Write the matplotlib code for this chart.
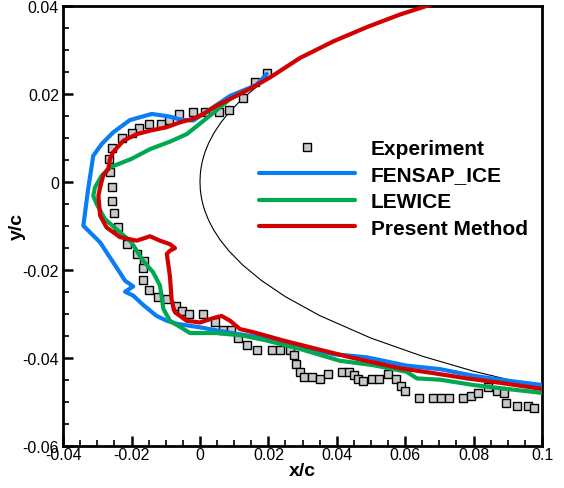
import matplotlib
matplotlib.use("Agg")
import matplotlib.pyplot as plt
from matplotlib.ticker import MultipleLocator

plt.rcParams["font.family"] = ["Liberation Sans", "DejaVu Sans"]

# NACA 0012 leading-edge region (x/c, half thickness)
airfoil_x = [0.0, 0.0001, 0.0003, 0.0006, 0.001, 0.0015, 0.0025, 0.004, 0.006,
             0.0085, 0.0125, 0.018, 0.025, 0.035, 0.05, 0.065, 0.08, 0.1, 0.12]
airfoil_t = [0.0, 0.001774, 0.003063, 0.004318, 0.005557, 0.006785, 0.008717,
             0.010961, 0.013338, 0.015766, 0.018939, 0.022472, 0.02615, 0.03043,
             0.03555, 0.039658, 0.043073, 0.04683, 0.049882]

# measured ice shape
exp_x = [0.0195, 0.0161, 0.0125, 0.0086, 0.0057, 0.0015, -0.0021, -0.0061, -0.0090,
         -0.0113, -0.0148, -0.0177, -0.0200, -0.0229, -0.0258, -0.0267, -0.0262,
         -0.0258, -0.0258, -0.0252, -0.0240, -0.0212, -0.0183, -0.0165, -0.0166,
         -0.0166, -0.0148, -0.0122, -0.0096, -0.0070, -0.0053, -0.0032, 0.0008,
         0.0043, 0.0066, 0.0090, 0.0112, 0.0137, 0.0166, 0.0212, 0.0234, 0.0263,
         0.0276, 0.0281, 0.0292, 0.0305, 0.0328, 0.0351, 0.0374, 0.0414, 0.0437,
         0.0450, 0.0463, 0.0478, 0.0502, 0.0524, 0.0549, 0.0572, 0.0589, 0.0600,
         0.0640, 0.0682, 0.0706, 0.0729, 0.0770, 0.0791, 0.0814, 0.0843, 0.0867,
         0.0890, 0.0896, 0.0926, 0.0959, 0.0977]
exp_y = [0.0246, 0.0227, 0.0190, 0.0163, 0.0159, 0.0159, 0.0159, 0.0153, 0.0141,
         0.0131, 0.0131, 0.0121, 0.0110, 0.0099, 0.0077, 0.0051, 0.0021,
         -0.0011, -0.0043, -0.0071, -0.0103, -0.0142, -0.0164, -0.0180, -0.0197,
         -0.0224, -0.0245, -0.0263, -0.0266, -0.0283, -0.0294, -0.0301, -0.0301,
         -0.0318, -0.0337, -0.0337, -0.0356, -0.0371, -0.0383, -0.0383, -0.0383,
         -0.0383, -0.0394, -0.0415, -0.0432, -0.0443, -0.0443, -0.0449, -0.0437,
         -0.0432, -0.0432, -0.0439, -0.0449, -0.0454, -0.0448, -0.0448, -0.0437,
         -0.0448, -0.0464, -0.0475, -0.0492, -0.0492, -0.0492, -0.0492, -0.0492,
         -0.0486, -0.0480, -0.0466, -0.0475, -0.0481, -0.0503, -0.0509, -0.0509,
         -0.0514]

fensap_x = [0.0195, 0.0166, 0.0088, 0.0010, -0.0020, -0.0058, -0.0088, -0.0141,
            -0.0205, -0.0254, -0.0287, -0.0312, -0.0327, -0.0341, -0.0292, -0.0254,
            -0.0219, -0.0195, -0.0219, -0.0195, -0.0166, -0.0127, -0.0097, -0.0068,
            0.0, 0.0078, 0.0175, 0.0292, 0.0390, 0.0487, 0.0604, 0.0702, 0.0799,
            0.0897, 0.1000]
fensap_y = [0.0245, 0.0220, 0.0195, 0.0154, 0.0139, 0.0141, 0.0148, 0.0154,
            0.0140, 0.0112, 0.0086, 0.0059, -0.0017, -0.0100, -0.0138, -0.0183,
            -0.0225, -0.0238, -0.0250, -0.0259, -0.0280, -0.0305, -0.0316, -0.0323,
            -0.0331, -0.0342, -0.0354, -0.0376, -0.0392, -0.0399, -0.0418, -0.0426,
            -0.0441, -0.0452, -0.0462]

lewice_x = [0.0132, 0.0088, 0.0029, -0.0039, -0.0088, -0.0146, -0.0200, -0.0239,
            -0.0263, -0.0287, -0.0307, -0.0312, -0.0302, -0.0278, -0.0234, -0.0200,
            -0.0170, -0.0137, -0.0117, -0.0107, -0.0088, -0.0029, 0.0049, 0.0127,
            0.0195, 0.0292, 0.0409, 0.0507, 0.0604, 0.0634, 0.0702, 0.0799, 0.0897,
            0.1000]
lewice_y = [0.0207, 0.0188, 0.0150, 0.0108, 0.0091, 0.0074, 0.0052, 0.0040,
            0.0033, 0.0014, -0.0013, -0.0032, -0.0051, -0.0085, -0.0115, -0.0138,
            -0.0176, -0.0206, -0.0236, -0.0289, -0.0316, -0.0344, -0.0344, -0.0350,
            -0.0361, -0.0380, -0.0407, -0.0417, -0.0432, -0.0447, -0.0450, -0.0462,
            -0.0471, -0.0480]

present_x = [0.075, 0.0673, 0.0585, 0.049, 0.039, 0.0292, 0.0205, 0.0146, 0.0088,
             0.0049, 0.0010, -0.0020, -0.0058, -0.0097, -0.0146, -0.0185, -0.0224,
             -0.0254, -0.0263, -0.0268, -0.0283, -0.0292, -0.0297, -0.0292, -0.0273,
             -0.0234, -0.0185, -0.0146, -0.0117, -0.0088, -0.0073, -0.0088, -0.0097,
             -0.0088, -0.0083, -0.0078, -0.0073, -0.0039, 0.0, 0.0039, 0.0063,
             0.0088, 0.0117, 0.0156, 0.0244, 0.0341, 0.0439, 0.0585, 0.0682, 0.0780,
             0.0877, 0.1000]
present_y = [0.0420, 0.0402, 0.0380, 0.0352, 0.0319, 0.0281, 0.0237, 0.0211, 0.0188,
             0.0173, 0.0154, 0.0143, 0.0135, 0.0124, 0.0116, 0.0108, 0.0093,
             0.0067, 0.0052, 0.0029, 0.0014, -0.0013, -0.0032, -0.0077, -0.0104,
             -0.0126, -0.0134, -0.0124, -0.0134, -0.0142, -0.0151, -0.0157, -0.0164,
             -0.0214, -0.0267, -0.0285, -0.0297, -0.0316, -0.0320, -0.0310, -0.0305,
             -0.0316, -0.0335, -0.0342, -0.0361, -0.0380, -0.0399, -0.0424, -0.0435,
             -0.0447, -0.0457, -0.0471]

fig = plt.figure(figsize=(5.64, 4.89), dpi=100)
ax = fig.add_axes([0.112, 0.0865, 0.849, 0.8998])

# airfoil contour: lower surface back to the nose, then upper surface
contour_x = airfoil_x[::-1] + airfoil_x[1:]
contour_y = [-t for t in airfoil_t[::-1]] + airfoil_t[1:]
ax.plot(contour_x, contour_y, color="black", lw=0.8, zorder=1)

ax.plot(exp_x, exp_y, ls="none", marker="s", ms=6.2, mfc="#c8c8c8", mec="black",
        mew=1.0, label="Experiment", zorder=2)
ax.plot(fensap_x, fensap_y, color="#0a7df5", lw=3.0, label="FENSAP_ICE",
        solid_capstyle="round", zorder=3)
ax.plot(lewice_x, lewice_y, color="#00a84f", lw=3.0, label="LEWICE",
        solid_capstyle="round", zorder=4)
ax.plot(present_x, present_y, color="#d20000", lw=3.0, label="Present Method",
        solid_capstyle="round", zorder=5)

ax.set_xlim(-0.04, 0.1)
ax.set_ylim(-0.06, 0.04)
ax.xaxis.set_major_locator(MultipleLocator(0.02))
ax.xaxis.set_minor_locator(MultipleLocator(0.005))
ax.yaxis.set_major_locator(MultipleLocator(0.02))
ax.yaxis.set_minor_locator(MultipleLocator(0.005))
ax.set_xticklabels([f"{v:g}" for v in ax.get_xticks()])
ax.set_yticklabels([f"{v:g}" for v in ax.get_yticks()])
ax.tick_params(which="both", direction="in", top=False, right=False,
               labelsize=11.5, width=1.2)
ax.tick_params(which="major", length=7, width=1.8, pad=3)
ax.tick_params(axis="x", which="major", pad=1)
ax.tick_params(which="minor", length=4)
for s in ax.spines.values():
    s.set_linewidth(2.0)

ax.set_xlabel("x/c", fontsize=14, fontweight="bold", labelpad=0)
ax.set_ylabel("y/c", fontsize=14, fontweight="bold")
ax.yaxis.set_label_coords(-0.078, 0.5)

ax.legend(loc="upper left", bbox_to_anchor=(0.41, 0.697), frameon=False,
          prop={"size": 15, "weight": "bold"}, handlelength=4.6,
          handletextpad=0.75, labelspacing=0.36, borderpad=0, borderaxespad=0)

fig.savefig("out.png", dpi=100)
